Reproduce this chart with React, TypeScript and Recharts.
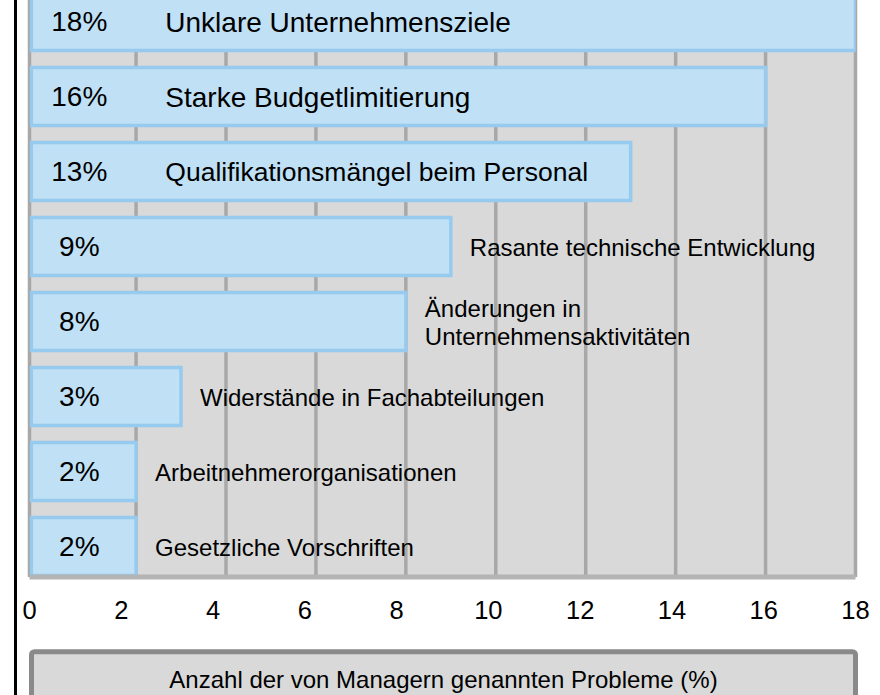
import { BarChart, Bar, XAxis, YAxis, CartesianGrid, LabelList } from "recharts"

// Problems named by managers, share in percent
const categories = [
  "Unklare Unternehmensziele",
  "Starke Budgetlimitierung",
  "Qualifikationsmängel beim Personal",
  "Rasante technische Entwicklung",
  "Änderungen in\nUnternehmensaktivitäten",
  "Widerstände in Fachabteilungen",
  "Arbeitnehmerorganisationen",
  "Gesetzliche Vorschriften",
]
const shares = [18, 16, 13, 9, 8, 3, 2, 2]
const xTicks = [0, 2, 4, 6, 8, 10, 12, 14, 16, 18]
const gridTicks = [2, 4, 6, 8, 10, 12, 14, 16, 18]
const axisTitle = "Anzahl der von Managern genannten Probleme (%)"

const chartData = categories.map((name, i) => ({ name, share: shares[i] }))

// the bars start a little left of the 0 grid position, like in the original slide
const DOMAIN_MIN = -0.37
const BAR_START = -0.33

const FONT = "'Liberation Sans', Arial, sans-serif"
const INSIDE_NAME_SIZE = [28, 28, 26.5]

type LabelProps = {
  x?: number | string
  y?: number | string
  width?: number | string
  height?: number | string
  index?: number
}

function PercentLabel({ x, y, height, index }: LabelProps) {
  const i = index ?? 0
  return (
    <text
      x={Number(x) + 48}
      y={Number(y) + Number(height) / 2}
      textAnchor="middle"
      dominantBaseline="central"
      fontSize={28}
      fontFamily={FONT}
      fill="#000"
    >
      {shares[i]}%
    </text>
  )
}

function NameLabel({ x, y, width, height, index }: LabelProps) {
  const i = index ?? 0
  const inside = shares[i] >= 10
  const lines = categories[i].split("\n")
  const lineHeight = 28
  const cx = inside ? Number(x) + 134 : Number(x) + Number(width) + 19
  const cy = Number(y) + Number(height) / 2
  const size = inside ? INSIDE_NAME_SIZE[i] ?? 28 : 24
  return (
    <text
      x={cx}
      y={cy}
      textAnchor="start"
      dominantBaseline="central"
      fontSize={size}
      fontFamily={FONT}
      fill="#000"
    >
      {lines.map((line, k) => (
        <tspan
          key={k}
          x={cx}
          dy={k === 0 ? -((lines.length - 1) / 2) * lineHeight : lineHeight}
        >
          {line}
        </tspan>
      ))}
    </text>
  )
}

function TitleBox({ viewBox }: { viewBox?: { x: number; y: number; width: number } }) {
  if (!viewBox) return null
  const left = viewBox.x + 2
  const right = viewBox.x + viewBox.width
  return (
    <g>
      <rect
        x={left}
        y={viewBox.y + 74.7}
        width={right - left}
        height={80}
        rx={3}
        fill="#d9d9d9"
        stroke="#8a8a8a"
        strokeWidth={5}
      />
      <text
        x={(left + right) / 2}
        y={viewBox.y + 111}
        textAnchor="middle"
        fontSize={24}
        fontFamily={FONT}
        fill="#000"
      >
        {axisTitle}
      </text>
    </g>
  )
}

export default function App() {
  return (
    <div
      style={{
        position: "fixed",
        left: 0,
        top: 0,
        width: 880,
        height: 695,
        overflow: "hidden",
        background: "#fff",
      }}
    >
      <div style={{ position: "absolute", left: 0, top: -40 }}>
        <BarChart
          width={880}
          height={735}
          data={chartData}
          layout="vertical"
          barSize={58}
          margin={{ top: 23.5, right: 24.5, left: 29.5, bottom: 0 }}
        >
          <CartesianGrid
            xAxisId="bars"
            horizontal={false}
            vertical
            fill="#d9d9d9"
            stroke="#a8a8a8"
            strokeWidth={3.5}
            strokeOpacity={1}
          />
          <XAxis
            xAxisId="bars"
            type="number"
            domain={[DOMAIN_MIN, 18]}
            ticks={gridTicks}
            allowDataOverflow
            height={0}
            hide
          />
          <XAxis
            xAxisId="labels"
            type="number"
            domain={[0, 18]}
            ticks={xTicks}
            interval={0}
            allowDataOverflow
            height={118}
            tickLine={false}
            tickSize={0}
            tickMargin={24}
            axisLine={{ stroke: "#b4b4b4", strokeWidth: 5 }}
            tick={{ fontSize: 25.5, fontFamily: FONT, fill: "#000" }}
            label={<TitleBox />}
          />
          <YAxis
            type="category"
            dataKey="name"
            width={0}
            tick={false}
            tickLine={false}
            axisLine={{ stroke: "#aaaaaa", strokeWidth: 2 }}
            padding={{ top: 0, bottom: -6.5 }}
          />
          <Bar
            xAxisId="bars"
            dataKey={(d: { share: number }) => [BAR_START, d.share]}
            fill="#bfe0f5"
            stroke="#96cbef"
            strokeWidth={3.5}
            isAnimationActive={false}
          >
            <LabelList content={<PercentLabel />} />
            <LabelList content={<NameLabel />} />
          </Bar>
        </BarChart>
      </div>
      <div
        style={{
          position: "absolute",
          left: 14,
          top: 0,
          width: 3,
          height: 695,
          background: "#000",
        }}
      />
    </div>
  )
}
